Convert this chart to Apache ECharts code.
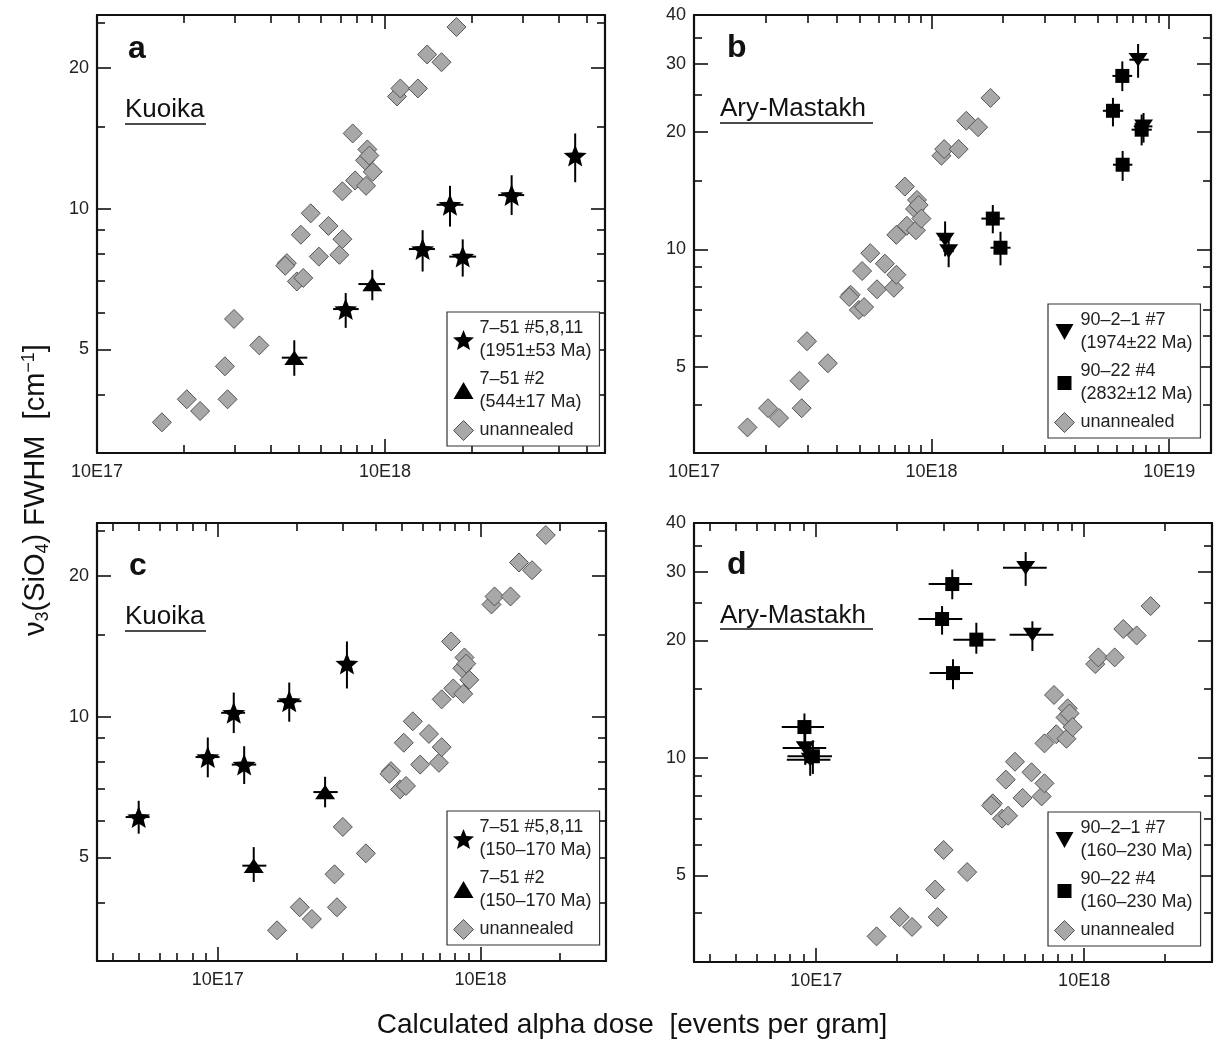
<!DOCTYPE html>
<html>
<head>
<meta charset="utf-8">
<script src="https://cdn.jsdelivr.net/npm/echarts@6/dist/echarts.min.js"></script>
<style>
  html, body { margin: 0; padding: 0; background: #fff; }
  #chart { width: 1221px; height: 1040px; }
</style>
</head>
<body>
<div id="chart"></div>
<script>
var FONT = '"Liberation Sans", Arial, sans-serif';

// unannealed zircon (same points in every panel): [dose, FWHM]
var unannealed = [
  [1.68e17, 3.49], [2.05e17, 3.91], [2.28e17, 3.69], [2.78e17, 4.60], [2.84e17, 3.91],
  [2.99e17, 5.81], [3.66e17, 5.10], [4.56e17, 7.65], [4.50e17, 7.55], [4.94e17, 6.99],
  [5.20e17, 7.11], [5.10e17, 8.80], [5.52e17, 9.78], [5.89e17, 7.90], [6.36e17, 9.19],
  [6.94e17, 7.97], [7.11e17, 8.61], [7.11e17, 10.9], [7.87e17, 11.5], [8.59e17, 11.2],
  [7.72e17, 14.5], [8.52e17, 12.7], [8.68e17, 13.4], [8.82e17, 13.0], [9.06e17, 12.0],
  [1.10e18, 17.4], [1.13e18, 18.1], [1.30e18, 18.1], [1.40e18, 21.4], [1.57e18, 20.6],
  [1.77e18, 24.5]
];

// annealed samples: [dose, FWHM, doseLo, doseHi, fwhmLo, fwhmHi]
var starsA = [
  [7.3e17, 6.1, 6.6e17, 8.1e17, 5.56, 6.6],
  [1.35e18, 8.2, 1.21e18, 1.49e18, 7.34, 9.0],
  [1.68e18, 10.2, 1.51e18, 1.87e18, 9.16, 11.2],
  [1.86e18, 7.9, 1.67e18, 2.07e18, 7.16, 8.6],
  [2.75e18, 10.7, 2.47e18, 3.04e18, 9.7, 11.8],
  [4.57e18, 13.0, 4.4e18, 4.75e18, 11.4, 14.5]
];
var trianglesA = [
  [4.84e17, 4.8, 4.38e17, 5.37e17, 4.39, 5.23],
  [9.03e17, 6.9, 8.08e17, 1.0e18, 6.37, 7.4]
];
var invTrianglesB = [
  [1.14e18, 10.6, 1.08e18, 1.2e18, 9.6, 11.8],
  [1.18e18, 9.9, 1.12e18, 1.24e18, 9.0, 10.9],
  [7.4e18, 30.7, 6.8e18, 8.2e18, 27.6, 33.7],
  [7.8e18, 20.7, 7.1e18, 8.5e18, 18.8, 22.4]
];
var squaresB = [
  [1.81e18, 12.0, 1.62e18, 2.03e18, 11.0, 13.0],
  [1.95e18, 10.1, 1.77e18, 2.15e18, 9.1, 11.1],
  [6.35e18, 27.9, 5.77e18, 6.99e18, 25.5, 30.4],
  [5.8e18, 22.7, 5.26e18, 6.41e18, 20.7, 24.5],
  [7.66e18, 20.3, 6.95e18, 8.45e18, 18.5, 22.2],
  [6.37e18, 16.5, 5.8e18, 7.0e18, 15.0, 17.9]
];
var starsC = [
  [5.0e16, 6.1, 4.46e16, 5.5e16, 5.62, 6.61],
  [9.16e16, 8.2, 8.23e16, 1.015e17, 7.42, 9.03],
  [1.15e17, 10.2, 1.03e17, 1.27e17, 9.23, 11.27],
  [1.26e17, 7.9, 1.13e17, 1.4e17, 7.18, 8.65],
  [1.87e17, 10.8, 1.68e17, 2.08e17, 9.76, 11.84],
  [3.1e17, 13.0, 3.0e17, 3.2e17, 11.5, 14.5]
];
var trianglesC = [
  [1.37e17, 4.8, 1.24e17, 1.53e17, 4.43, 5.26],
  [2.56e17, 6.9, 2.31e17, 2.86e17, 6.4, 7.44]
];
var invTrianglesD = [
  [9.1e16, 10.6, 7.5e16, 1.09e17, 9.6, 11.8],
  [9.5e16, 9.9, 7.77e16, 1.13e17, 9.0, 10.9],
  [6.05e17, 30.7, 4.98e17, 7.25e17, 27.6, 33.7],
  [6.41e17, 20.7, 5.27e17, 7.68e17, 18.8, 22.4]
];
var squaresD = [
  [9.04e16, 12.0, 7.44e16, 1.07e17, 11.0, 13.0],
  [9.72e16, 10.1, 7.81e16, 1.145e17, 9.1, 11.1],
  [3.22e17, 27.9, 2.63e17, 3.82e17, 25.5, 30.4],
  [2.95e17, 22.7, 2.41e17, 3.51e17, 20.7, 24.5],
  [3.96e17, 20.1, 3.25e17, 4.67e17, 18.5, 22.2],
  [3.24e17, 16.5, 2.65e17, 3.85e17, 15.0, 17.9]
];

// tick positions
var xMajorTicks = [1e17, 1e18, 1e19];
var xMinorTicks = [4e16, 5e16, 6e16, 7e16, 8e16, 9e16,
  2e17, 3e17, 4e17, 5e17, 6e17, 7e17, 8e17, 9e17,
  2e18, 3e18, 4e18, 5e18, 6e18, 7e18, 8e18, 9e18];
var yMajorAC = [5, 10, 20];
var yMinorAC = [4, 6, 7, 8, 9, 15, 25];
var yMajorBD = [5, 10, 20, 30, 40];
var yMinorBD = [4, 6, 7, 8, 9, 15, 25, 35];

// legend names
var namesA = ['7–51 #5,8,11\n(1951±53 Ma)', '7–51 #2\n(544±17 Ma)', 'unannealed'];
var namesB = ['90–2–1 #7\n(1974±22 Ma)', '90–22 #4\n(2832±12 Ma)', 'unannealed'];
var namesC = ['7–51 #5,8,11\n(150–170 Ma)', '7–51 #2\n(150–170 Ma)', 'unannealed'];
var namesD = ['90–2–1 #7\n(160–230 Ma)', '90–22 #4\n(160–230 Ma)', 'unannealed'];

function starPath() {
  var d = '';
  for (var k = 0; k < 10; k++) {
    var a = -Math.PI / 2 + k * Math.PI / 5;
    var r = k % 2 ? 22 : 50;
    d += (k ? 'L' : 'M') + (50 + r * Math.cos(a)).toFixed(1) + ',' + (50 + r * Math.sin(a)).toFixed(1);
  }
  return 'path://' + d + 'Z';
}
var STAR = starPath();
var TRI = 'path://M10,0L20,17L0,17Z';
var INV = 'path://M0,0L20,0L10,17Z';
var icons = {
  star: STAR,
  tri: 'path://M0,0M20,20M0,18L10,1L20,18Z',
  inv: 'path://M0,0M20,20M1,2L19,2L10,18Z',
  sq: 'path://M0,0M20,20M3,3L17,3L17,17L3,17Z',
  dia: 'path://M10,0L20,10L10,20L0,10Z'
};

var panels = [
  { grid: { left: 97, top: 15, width: 508, height: 438 }, x: [1e17, 5.8e18], y: [3, 26], yMajor: yMajorAC, yMinor: yMinorAC,
    legend: { left: 447, top: 312 }, names: namesA, marks: [[starsA, 'star'], [trianglesA, 'tri']] },
  { grid: { left: 694, top: 15, width: 517, height: 438 }, x: [1e17, 1.5e19], y: [3, 40], yMajor: yMajorBD, yMinor: yMinorBD,
    legend: { left: 1048, top: 304 }, names: namesB, marks: [[invTrianglesB, 'inv'], [squaresB, 'sq']] },
  { grid: { left: 97, top: 523, width: 509, height: 438 }, x: [3.47e16, 3e18], y: [3, 26], yMajor: yMajorAC, yMinor: yMinorAC,
    legend: { left: 447, top: 811 }, names: namesC, marks: [[starsC, 'star'], [trianglesC, 'tri']] },
  { grid: { left: 694, top: 523, width: 518, height: 439 }, x: [3.5e16, 3e18], y: [3, 40], yMajor: yMajorBD, yMinor: yMinorBD,
    legend: { left: 1048, top: 812 }, names: namesD, marks: [[invTrianglesD, 'inv'], [squaresD, 'sq']] }
];

var symbols = {
  star: { symbol: STAR, size: 23 },
  tri: { symbol: TRI, size: [20, 17] },
  inv: { symbol: INV, size: [19, 16] },
  sq: { symbol: 'rect', size: 14 }
};

var lineStyle = { color: '#111', width: 2.2 };
var tickStyle = { color: '#111', width: 1.6 };

function axisSet(kind, i, range, major, minor, labelFmt) {
  var sides = kind === 'x' ? ['bottom', 'top'] : ['left', 'right'];
  var out = [];
  sides.forEach(function (side, s) {
    [major, minor].forEach(function (ticks, m) {
      out.push({
        type: 'log', logBase: 10, gridIndex: i, position: side,
        min: range[0], max: range[1],
        splitLine: { show: false },
        axisLine: { show: m === 0, onZero: false, lineStyle: lineStyle },
        axisTick: { show: true, inside: true, length: m === 0 ? 14 : 8, customValues: ticks, lineStyle: tickStyle },
        axisLabel: {
          show: s === 0 && m === 0, customValues: ticks, formatter: labelFmt,
          fontSize: 18, color: '#222', fontFamily: FONT, margin: kind === 'x' ? 10 : 8
        }
      });
    });
  });
  return out;
}

function errorBars(data, ai) {
  return {
    type: 'custom', xAxisIndex: ai, yAxisIndex: ai, data: data, z: 3, silent: true,
    renderItem: function (params, api) {
      var c = api.coord([api.value(0), api.value(1)]);
      var xl = api.coord([api.value(2), api.value(1)]);
      var xh = api.coord([api.value(3), api.value(1)]);
      var yl = api.coord([api.value(0), api.value(4)]);
      var yh = api.coord([api.value(0), api.value(5)]);
      return {
        type: 'group', children: [
          { type: 'line', shape: { x1: xl[0], y1: c[1], x2: xh[0], y2: c[1] }, style: { stroke: '#000', lineWidth: 2 } },
          { type: 'line', shape: { x1: c[0], y1: yl[1], x2: c[0], y2: yh[1] }, style: { stroke: '#000', lineWidth: 2 } }
        ]
      };
    }
  };
}

var grids = [], xAxes = [], yAxes = [], series = [], legends = [];
panels.forEach(function (p, i) {
  grids.push(p.grid);
  var ai = xAxes.length;
  xAxes = xAxes.concat(axisSet('x', i, p.x, xMajorTicks, xMinorTicks, function (v) {
    return '10E' + Math.round(Math.log10(v));
  }));
  yAxes = yAxes.concat(axisSet('y', i, p.y, p.yMajor, p.yMinor, function (v) { return String(v); }));

  series.push({
    type: 'scatter', name: 'unannealed', xAxisIndex: ai, yAxisIndex: ai, data: unannealed, z: 2,
    symbol: 'diamond', symbolSize: 19,
    itemStyle: { color: '#a8a8a8', borderColor: '#555', borderWidth: 1, opacity: 1 }
  });
  p.marks.forEach(function (mk, k) {
    series.push(errorBars(mk[0], ai));
    series.push({
      type: 'scatter', name: p.names[k], xAxisIndex: ai, yAxisIndex: ai, data: mk[0], z: 4,
      symbol: symbols[mk[1]].symbol, symbolSize: symbols[mk[1]].size, symbolKeepAspect: true,
      itemStyle: { color: '#000', opacity: 1 }
    });
  });

  legends.push({
    left: p.legend.left, top: p.legend.top, orient: 'vertical', selectedMode: false,
    backgroundColor: '#fff', borderColor: '#333', borderWidth: 1.2, padding: [5, 8, 4, 6],
    itemGap: 5, itemWidth: 22, itemHeight: 20, itemTextGap: 12,
    textStyle: { fontSize: 18, lineHeight: 23, color: '#222', fontFamily: FONT },
    data: [
      { name: p.names[0], icon: icons[p.marks[0][1]], itemStyle: { color: '#000' } },
      { name: p.names[1], icon: icons[p.marks[1][1]], itemStyle: { color: '#000' } },
      { name: 'unannealed', icon: icons.dia, itemStyle: { color: '#a8a8a8', borderColor: '#555', borderWidth: 1 } }
    ]
  });
});

function label(text, x, y, size, bold) {
  return { type: 'text', x: x, y: y, z: 10,
    style: { text: text, fontSize: size, fontWeight: bold ? 'bold' : 'normal', fontFamily: FONT,
      fill: '#111', align: 'left', verticalAlign: 'middle' } };
}
function underline(x1, x2, y) {
  return { type: 'line', z: 10, shape: { x1: x1, y1: y, x2: x2, y2: y }, style: { stroke: '#111', lineWidth: 1.5 } };
}

var graphics = [
  label('a', 128, 49, 32, true), label('b', 727, 48, 32, true),
  label('c', 129, 566, 32, true), label('d', 727, 565, 32, true),
  label('Kuoika', 125, 110, 26), underline(125, 206, 124),
  label('Ary-Mastakh', 720, 109, 26), underline(720, 873, 123),
  label('Kuoika', 125, 617, 26), underline(125, 206, 631),
  label('Ary-Mastakh', 720, 616, 26), underline(720, 873, 629),
  { type: 'text', x: 632, y: 1025, z: 10,
    style: { text: 'Calculated alpha dose  [events per gram]', fontSize: 28, fontFamily: FONT,
      fill: '#111', align: 'center', verticalAlign: 'middle' } },
  { type: 'text', x: 36, y: 490, rotation: Math.PI / 2, z: 10,
    style: {
      text: '{n|ν}{s|3}{n|(SiO}{s|4}{n|) FWHM  [cm}{p|−1}{n|]}',
      align: 'center', verticalAlign: 'middle', fill: '#111',
      rich: {
        n: { fontSize: 29, fontFamily: FONT, fill: '#111', lineHeight: 32 },
        s: { fontSize: 18, fontFamily: FONT, fill: '#111', lineHeight: 8, verticalAlign: 'bottom' },
        p: { fontSize: 18, fontFamily: FONT, fill: '#111', lineHeight: 8, verticalAlign: 'top' }
      }
    } }
];

var chart = echarts.init(document.getElementById('chart'), null, { renderer: 'canvas' });
chart.setOption({
  animation: false,
  backgroundColor: '#fff',
  grid: grids,
  xAxis: xAxes,
  yAxis: yAxes,
  legend: legends,
  series: series,
  graphic: graphics
});
</script>
</body>
</html>
